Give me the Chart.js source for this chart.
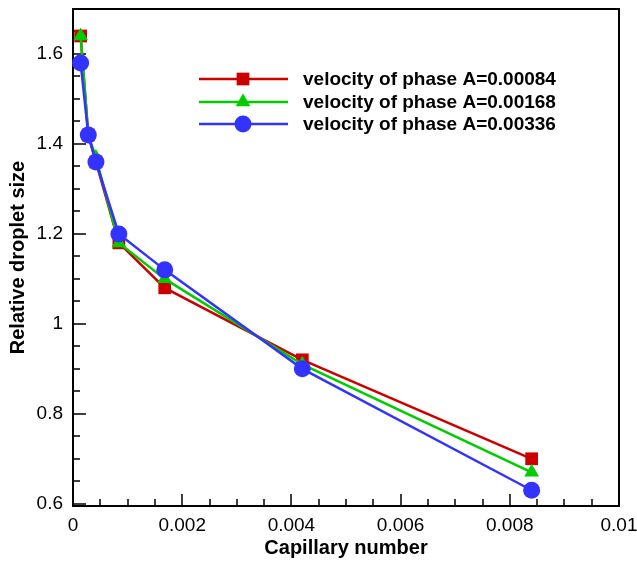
<!DOCTYPE html>
<html>
<head>
<meta charset="utf-8">
<title>Relative droplet size</title>
<script src="https://cdn.jsdelivr.net/npm/chart.js@4.4.1/dist/chart.umd.min.js"></script>
<style>
  body { margin: 0; background: #fff; }
  #box { width: 637px; height: 564px; }
</style>
</head>
<body>
<div id="box"><canvas id="grafico" width="637" height="564"></canvas></div>
<script>
var capillaryNumber = [0.00014, 0.00028, 0.00042, 0.00084, 0.00168, 0.0042, 0.0084];
var sizeA00084 = [1.64, 1.42, 1.36, 1.18, 1.08, 0.92, 0.70];
var sizeA00168 = [1.64, 1.42, 1.37, 1.18, 1.10, 0.91, 0.67];
var sizeA00336 = [1.58, 1.42, 1.36, 1.20, 1.12, 0.90, 0.63];
var seriesLabels = ["velocity of phase A=0.00084", "velocity of phase A=0.00168", "velocity of phase A=0.00336"];
var xTicks = [0, 0.002, 0.004, 0.006, 0.008, 0.01];
var yTicks = [0.6, 0.8, 1, 1.2, 1.4, 1.6];
var xMinorStep = 0.0005;
var yMinorStep = 0.05;

var fonte = '"Liberation Sans", Arial, Helvetica, sans-serif';
Chart.defaults.font.family = fonte;
Chart.defaults.color = "#000";

function pontos(valores) {
  return capillaryNumber.map(function (c, i) {
    return { x: c, y: valores[i] };
  });
}

function serie(label, valores, cor, estilo, raio, ordem) {
  return {
    label: label,
    data: pontos(valores),
    borderColor: cor,
    backgroundColor: cor,
    pointBackgroundColor: cor,
    pointBorderColor: cor,
    pointBorderWidth: 0,
    pointStyle: estilo,
    pointRadius: raio,
    pointHoverRadius: raio,
    borderWidth: 2.5,
    tension: 0,
    fill: false,
    clip: false,
    order: ordem,
  };
}

// no extra room for the end labels, the plot box is fixed by layout.padding
function semFolga(scale) {
  scale.paddingTop = 0;
  scale.paddingBottom = 0;
  scale.paddingLeft = 0;
  scale.paddingRight = 0;
}

// box around the plot + ticks pointing inwards (major and minor)
var molduraPlugin = {
  id: "moldura",
  beforeDatasetsDraw: function (chart) {
    var ctx = chart.ctx;
    var a = chart.chartArea;
    var xs = chart.scales.x;
    var ys = chart.scales.y;
    ctx.save();
    ctx.strokeStyle = "#000";
    ctx.lineWidth = 1.5;
    ctx.beginPath();
    for (var i = 0; i <= 20; i++) {
      var px = Math.round(xs.getPixelForValue(i * xMinorStep));
      var len = i % 4 == 0 ? 12 : 7;
      ctx.moveTo(px, a.bottom);
      ctx.lineTo(px, a.bottom - len);
    }
    for (var j = 0; j <= 22; j++) {
      var py = Math.round(ys.getPixelForValue(0.6 + j * yMinorStep));
      var len2 = j % 4 == 0 ? 13 : 7;
      ctx.moveTo(a.left, py);
      ctx.lineTo(a.left + len2, py);
    }
    ctx.stroke();
    ctx.lineWidth = 2;
    ctx.strokeRect(a.left, a.top, a.right - a.left, a.bottom - a.top);
    ctx.restore();
  },
  afterDraw: function (chart) {
    // legend inside the plot, same look as the original
    var ctx = chart.ctx;
    var a = chart.chartArea;
    var linhas = [70, 93, 115];
    ctx.save();
    chart.data.datasets.forEach(function (ds, i) {
      var y = a.top + linhas[i];
      ctx.strokeStyle = ds.borderColor;
      ctx.fillStyle = ds.borderColor;
      ctx.lineWidth = 2.5;
      ctx.beginPath();
      ctx.moveTo(a.left + 126, y);
      ctx.lineTo(a.left + 215, y);
      ctx.stroke();
      Chart.helpers.drawPoint(ctx, {
        pointStyle: ds.pointStyle,
        radius: ds.pointRadius,
        rotation: 0,
        borderWidth: 0,
      }, a.left + 170, y);
      ctx.fillStyle = "#000";
      ctx.font = "bold 19px " + fonte;
      ctx.textBaseline = "middle";
      ctx.textAlign = "left";
      ctx.fillText(ds.label, a.left + 230, y + 1);
    });
    ctx.restore();
  },
};

var ctx1 = document.getElementById("grafico").getContext("2d");

var grafico = new Chart(ctx1, {
  type: "line",
  data: {
    datasets: [
      serie(seriesLabels[0], sizeA00084, "rgb(204, 0, 0)", "rect", 9, 3),
      serie(seriesLabels[1], sizeA00168, "rgb(0, 204, 0)", "triangle", 8.5, 2),
      serie(seriesLabels[2], sizeA00336, "rgb(51, 51, 255)", "circle", 8.5, 1),
    ],
  },
  options: {
    responsive: false,
    animation: false,
    layout: {
      padding: { top: 7, right: 18, left: 0, bottom: 0 },
    },
    plugins: {
      legend: { display: false },
      tooltip: { enabled: false },
    },
    scales: {
      x: {
        type: "linear",
        min: 0,
        max: 0.01,
        afterBuildTicks: function (scale) {
          scale.ticks = xTicks.map(function (v) { return { value: v }; });
        },
        afterFit: function (scale) {
          scale.height = 58;
          semFolga(scale);
        },
        grid: { display: false, drawTicks: false },
        border: { display: false },
        ticks: {
          padding: 8,
          maxRotation: 0,
          autoSkip: false,
          font: { size: 19 },
          callback: function (v) { return String(+Number(v).toFixed(4)); },
        },
        title: {
          display: true,
          text: "Capillary number",
          font: { size: 20, weight: "bold" },
          padding: { top: 0, bottom: 4 },
        },
      },
      y: {
        type: "linear",
        min: 0.595,
        max: 1.7,
        afterBuildTicks: function (scale) {
          scale.ticks = yTicks.map(function (v) { return { value: v }; });
        },
        afterFit: function (scale) {
          scale.width = 73;
          semFolga(scale);
        },
        grid: { display: false, drawTicks: false },
        border: { display: false },
        ticks: {
          padding: 10,
          autoSkip: false,
          font: { size: 19 },
          callback: function (v) { return String(+Number(v).toFixed(2)); },
        },
        title: {
          display: true,
          text: "Relative droplet size",
          font: { size: 20, weight: "bold" },
          padding: { top: 6, bottom: 0 },
        },
      },
    },
  },
  plugins: [molduraPlugin],
});
</script>
</body>
</html>
